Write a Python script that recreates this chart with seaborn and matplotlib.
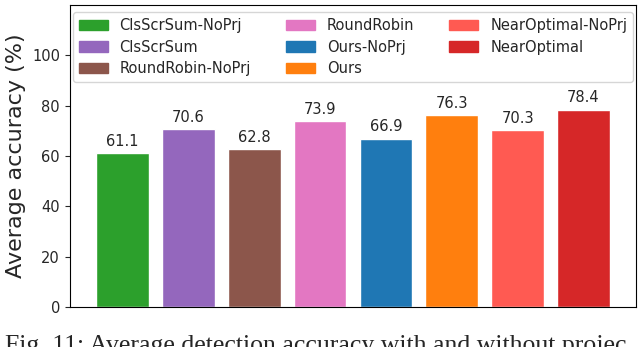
import matplotlib
matplotlib.use('Agg')
import matplotlib.pyplot as plt
import seaborn as sns

# dados
metodos = ['ClsScrSum-NoPrj', 'ClsScrSum', 'RoundRobin-NoPrj', 'RoundRobin',
           'Ours-NoPrj', 'Ours', 'NearOptimal-NoPrj', 'NearOptimal']
acuracia = [61.1, 70.6, 62.8, 73.9, 66.9, 76.3, 70.3, 78.4]
cores = ['#2ca02c', '#9467bd', '#8c564b', '#e377c2',
         '#1f77b4', '#ff7f0e', '#ff5a52', '#d62728']
yticks = [0, 20, 40, 60, 80, 100]

sns.set_style('ticks')
plt.rcParams['font.family'] = ['DejaVu Sans']

fig = plt.figure(figsize=(6.4, 3.47), dpi=100)
ax = fig.add_axes([0.109, 0.115, 0.885, 0.871])

sns.barplot(x=metodos, y=acuracia, hue=metodos, palette=cores, dodge=False,
            width=0.8, saturation=1, legend=False, ax=ax)

for cont in ax.containers:
    ax.bar_label(cont, fmt='%.1f', padding=3, fontsize=10.5)

ax.set_xlim(-0.8, 7.8)
ax.set_ylim(0, 120)
ax.set_yticks(yticks)
ax.tick_params(axis='y', labelsize=10.5)
ax.set_xticks([])
ax.set_ylabel('Average accuracy (%)', fontsize=16)
for s in ax.spines.values():
    s.set_visible(True)
    s.set_color('black')

handles = [plt.Rectangle((0, 0), 1, 1, color=c) for c in cores]
ax.legend(handles, metodos, ncol=3, loc='upper center', fontsize=10.5,
          columnspacing=2.4, handlelength=2.0, labelspacing=0.45)

# legenda da figura (cortada embaixo, como no original)
fig.text(0.008, 1 - 335 / 347, 'Fig. 11: Average detection accuracy with and without projec',
         family='Liberation Serif', fontsize=18.5, va='top')

plt.savefig('out.png')
